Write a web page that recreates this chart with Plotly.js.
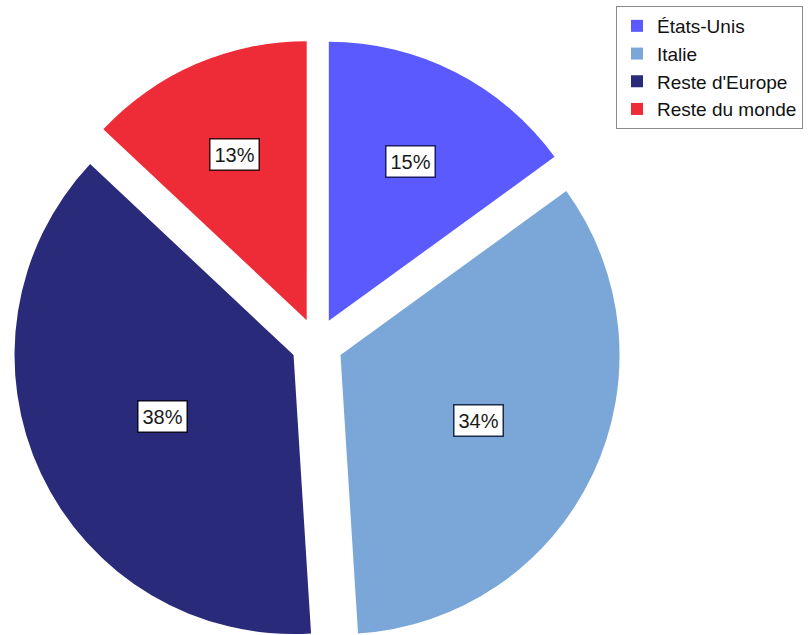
<!DOCTYPE html>
<html>
<head>
<meta charset="utf-8">
<script src="https://cdn.plot.ly/plotly-3.0.1.min.js"></script>
<style>
html, body { margin:0; padding:0; width:811px; height:635px; overflow:hidden; background:#fff; }
#chart { width:811px; height:660px; }
</style>
</head>
<body>
<div id="chart"></div>
<script>
const labels = ["États-Unis", "Italie", "Reste d'Europe", "Reste du monde"];
const values = [15, 34, 38, 13];
const colors = ["#5a5aff", "#7aa7d8", "#2a2a7a", "#ee2c38"];
const borderColors = ["#1c1c66", "#1a2a4a", "#0c0c20", "#3a0c10"];

const W = 811, H = 660;
const pull = 0.093;
const domX = [0, 0.7818];
const domY = [0.0167, 0.9409];

// label positions derived from the values (sector centroids of the pulled slices)
const total = values.reduce((a, b) => a + b, 0);
const boxH = H * (domY[1] - domY[0]);
const boxW = W * (domX[1] - domX[0]);
const r = Math.min(boxH, boxW) / (2 + 2 * pull);
const cx = W * (domX[0] + domX[1]) / 2;
const cy = H * (1 - (domY[0] + domY[1]) / 2);
let cum = 0;
const annotations = values.map((v, i) => {
  const a = v / total * 2 * Math.PI;
  const mid = cum + a / 2;
  cum += a;
  const dist = pull * r + 4 * r * Math.sin(a / 2) / (3 * a);
  const px = cx + dist * Math.sin(mid);
  const py = cy - dist * Math.cos(mid);
  return {
    x: px / W, y: 1 - py / H, xref: 'paper', yref: 'paper',
    xanchor: 'center', yanchor: 'middle',
    text: Math.round(v / total * 100) + '%',
    showarrow: false,
    font: { family: 'Liberation Sans, Arial, sans-serif', size: 20, color: '#1a1a1a' },
    bgcolor: '#ffffff',
    bordercolor: borderColors[i],
    borderwidth: 1.5,
    borderpad: 4
  };
});

const data = [{
  type: 'pie',
  labels: labels,
  values: values,
  marker: { colors: colors, line: { width: 0 } },
  sort: false,
  direction: 'clockwise',
  rotation: 0,
  pull: pull,
  textinfo: 'none',
  hoverinfo: 'none',
  domain: { x: domX, y: domY }
}];

const layout = {
  width: W, height: H,
  margin: { l: 0, r: 0, t: 0, b: 0 },
  paper_bgcolor: '#ffffff',
  showlegend: true,
  legend: {
    x: 616 / W, y: 1 - 6 / H, xanchor: 'left', yanchor: 'top',
    bgcolor: '#ffffff', bordercolor: '#8a8a8a', borderwidth: 1,
    font: { family: 'Liberation Sans, Arial, sans-serif', size: 19, color: '#111' },
    traceorder: 'normal'
  },
  annotations: annotations
};

Plotly.newPlot('chart', data, layout, { displayModeBar: false, staticPlot: true });
</script>
</body>
</html>
